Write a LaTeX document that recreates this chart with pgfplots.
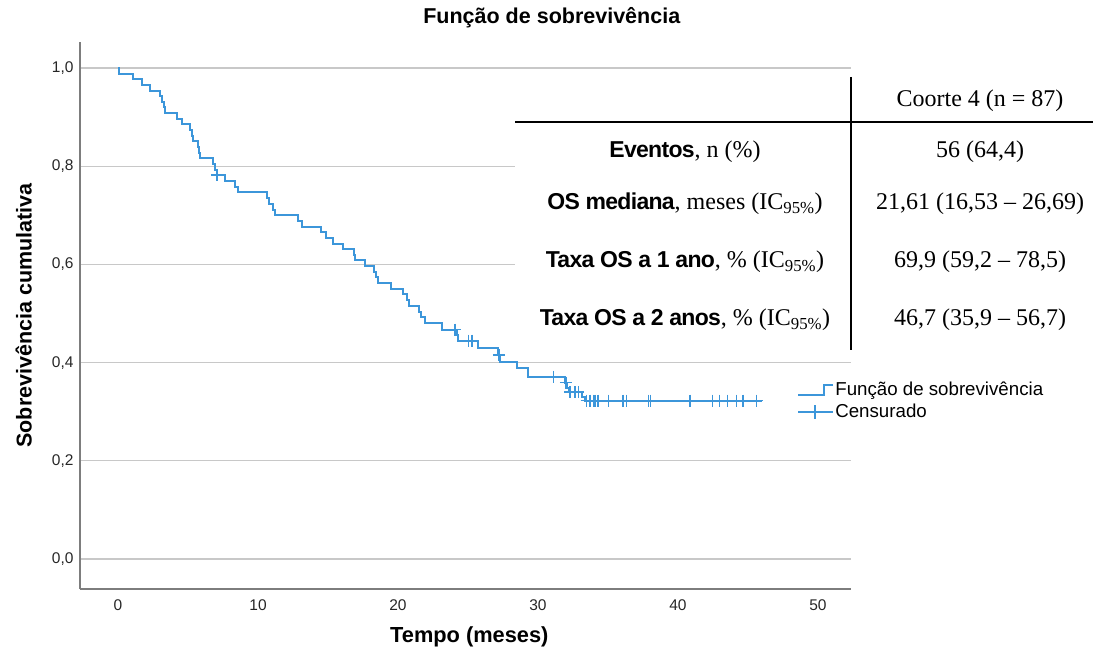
\documentclass[border=0pt]{standalone}
\usepackage{fontspec}
\setmainfont{Liberation Sans}
\newfontfamily\seriffont{Liberation Serif}
\newfontfamily\tabsans[LetterSpace=-3.0]{Liberation Sans}
\usepackage{pgfplots}
\pgfplotsset{compat=1.18}
\definecolor{kmblue}{RGB}{60,150,218}
\definecolor{axgray}{RGB}{125,125,125}
\definecolor{gridgray}{RGB}{200,200,200}

\pgfplotstableread{
t S
0 1.0
0.04 0.9886
1.07 0.9770
1.69 0.9654
2.29 0.9539
3.00 0.9426
3.14 0.9310
3.25 0.9196
3.36 0.9080
4.19 0.8965
4.55 0.8851
5.14 0.8735
5.26 0.8621
5.39 0.8505
5.74 0.8391
5.82 0.8275
5.86 0.8161
6.79 0.8045
6.93 0.7931
7.04 0.7817
7.64 0.7701
8.36 0.7587
8.54 0.7470
10.62 0.7352
10.75 0.7234
11.07 0.7118
11.21 0.7002
12.88 0.6884
13.12 0.6768
14.50 0.6660
14.89 0.6538
15.38 0.6426
16.09 0.6314
16.86 0.6191
16.96 0.6090
17.64 0.5978
18.32 0.5855
18.46 0.5743
18.59 0.5621
19.50 0.5509
20.36 0.5397
20.62 0.5285
20.75 0.5163
21.50 0.5041
21.61 0.4929
21.93 0.4807
23.12 0.4674
24.19 0.4562
24.31 0.4450
25.68 0.4291
27.16 0.4155
27.29 0.4018
28.48 0.3884
29.31 0.3717
31.93 0.3595
32.07 0.3483
32.18 0.3401
33.12 0.3310
33.36 0.3228
45.98 0.3228
}\kmcurve

\pgfplotstableread{
t S
7.06 0.7817
24.07 0.4674
25.04 0.4450
25.29 0.4450
27.21 0.4155
31.09 0.3717
32.00 0.3595
32.29 0.3401
32.64 0.3401
32.88 0.3401
33.48 0.3228
33.71 0.3228
33.95 0.3228
34.07 0.3228
34.29 0.3228
35.02 0.3228
36.09 0.3228
36.32 0.3228
37.89 0.3228
38.04 0.3228
40.86 0.3228
42.48 0.3228
42.96 0.3228
43.52 0.3228
44.19 0.3228
44.66 0.3228
45.62 0.3228
}\kmcensor

\begin{document}
\begin{tikzpicture}
\useasboundingbox (0pt,0pt) rectangle (1093pt,654pt);
\begin{axis}[
  at={(80pt,65pt)}, anchor=south west, scale only axis,
  width=771pt, height=547pt,
  xmin=-2.716, xmax=52.36, ymin=-0.061, ymax=1.053,
  axis lines*=left,
  axis line style={axgray, line width=1.3pt, -},
  xtick={0,10,20,30,40,50},
  ytick={0,0.2,0.4,0.6,0.8,1.0},
  major tick length=0pt,
  ymajorgrids,
  grid style={gridgray, line width=1.3pt},
  /pgf/number format/assume math mode=true,
  ticklabel style={font=\fontsize{15.5}{17}\selectfont, text=black!85},
  xticklabel style={yshift=-7pt},
  yticklabel style={xshift=-3pt},
  y tick label style={/pgf/number format/.cd, fixed, fixed zerofill, precision=1, use comma, /tikz/.cd},
  title={\textbf{Função de sobrevivência}},
  title style={at={(axis description cs:0.612,1.034)}, anchor=center, font=\fontsize{21.5}{25}\selectfont},
  xlabel={\textbf{Tempo (meses)}},
  xlabel style={at={(axis description cs:0.505,-0.088)}, anchor=center, font=\fontsize{21.8}{25}\selectfont},
  ylabel={\textbf{Sobrevivência cumulativa}},
  ylabel style={at={(axis description cs:-0.073,0.50)}, anchor=center, font=\fontsize{21.5}{25}\selectfont},
  legend style={at={(axis description cs:0.930,0.382)}, anchor=north west, draw=none, fill=none,
    font=\fontsize{18.7}{21}\selectfont, inner sep=0pt, row sep=3pt,
    nodes={inner xsep=1.5pt}},
  legend cell align=left,
]
\addplot[const plot, color=kmblue, line width=2pt,
  legend image code/.code={\draw[kmblue, line width=1.6pt] (0pt,-5pt) -- (26pt,-5pt) -- (26pt,5pt) -- (35pt,5pt);}]
  table[x=t, y=S] {\kmcurve};
\addlegendentry{Função de sobrevivência}
\addplot[only marks, mark=+, mark size=6pt, color=kmblue, mark options={line width=1.5pt},
  legend image code/.code={\draw[kmblue, line width=1.6pt] (0pt,0pt) -- (35pt,0pt); \draw[kmblue, line width=1.6pt] (17pt,-7pt) -- (17pt,7pt);}]
  table[x=t, y=S] {\kmcensor};
\addlegendentry{Censurado}
\end{axis}
% table overlay
\fill[white] (515pt,299pt) rectangle (851pt,580pt);
\draw[line width=2pt] (515pt,532pt) -- (1093pt,532pt);
\draw[line width=2pt] (851pt,577pt) -- (851pt,304pt);
\node[font=\seriffont\fontsize{24}{28}\selectfont] at (980pt,553pt) {Coorte 4 (n = 87)};
\node[font=\seriffont\fontsize{24}{28}\selectfont] at (685pt,502pt) {{\tabsans\bfseries\fontsize{23}{28}\selectfont Eventos}, n (\%)};
\node[font=\seriffont\fontsize{24}{28}\selectfont] at (980pt,502pt) {56 (64,4)};
\node[font=\seriffont\fontsize{24}{28}\selectfont] at (685pt,450pt) {{\tabsans\bfseries\fontsize{23}{28}\selectfont OS mediana}, meses (IC\textsubscript{95\%})};
\node[font=\seriffont\fontsize{24}{28}\selectfont] at (980pt,450pt) {21,61 (16,53 – 26,69)};
\node[font=\seriffont\fontsize{24}{28}\selectfont] at (685pt,392pt) {{\tabsans\bfseries\fontsize{23}{28}\selectfont Taxa OS a 1 ano}, \% (IC\textsubscript{95\%})};
\node[font=\seriffont\fontsize{24}{28}\selectfont] at (980pt,392pt) {69,9 (59,2 – 78,5)};
\node[font=\seriffont\fontsize{24}{28}\selectfont] at (685pt,334pt) {{\tabsans\bfseries\fontsize{23}{28}\selectfont Taxa OS a 2 anos}, \% (IC\textsubscript{95\%})};
\node[font=\seriffont\fontsize{24}{28}\selectfont] at (980pt,334pt) {46,7 (35,9 – 56,7)};
\end{tikzpicture}
\end{document}
